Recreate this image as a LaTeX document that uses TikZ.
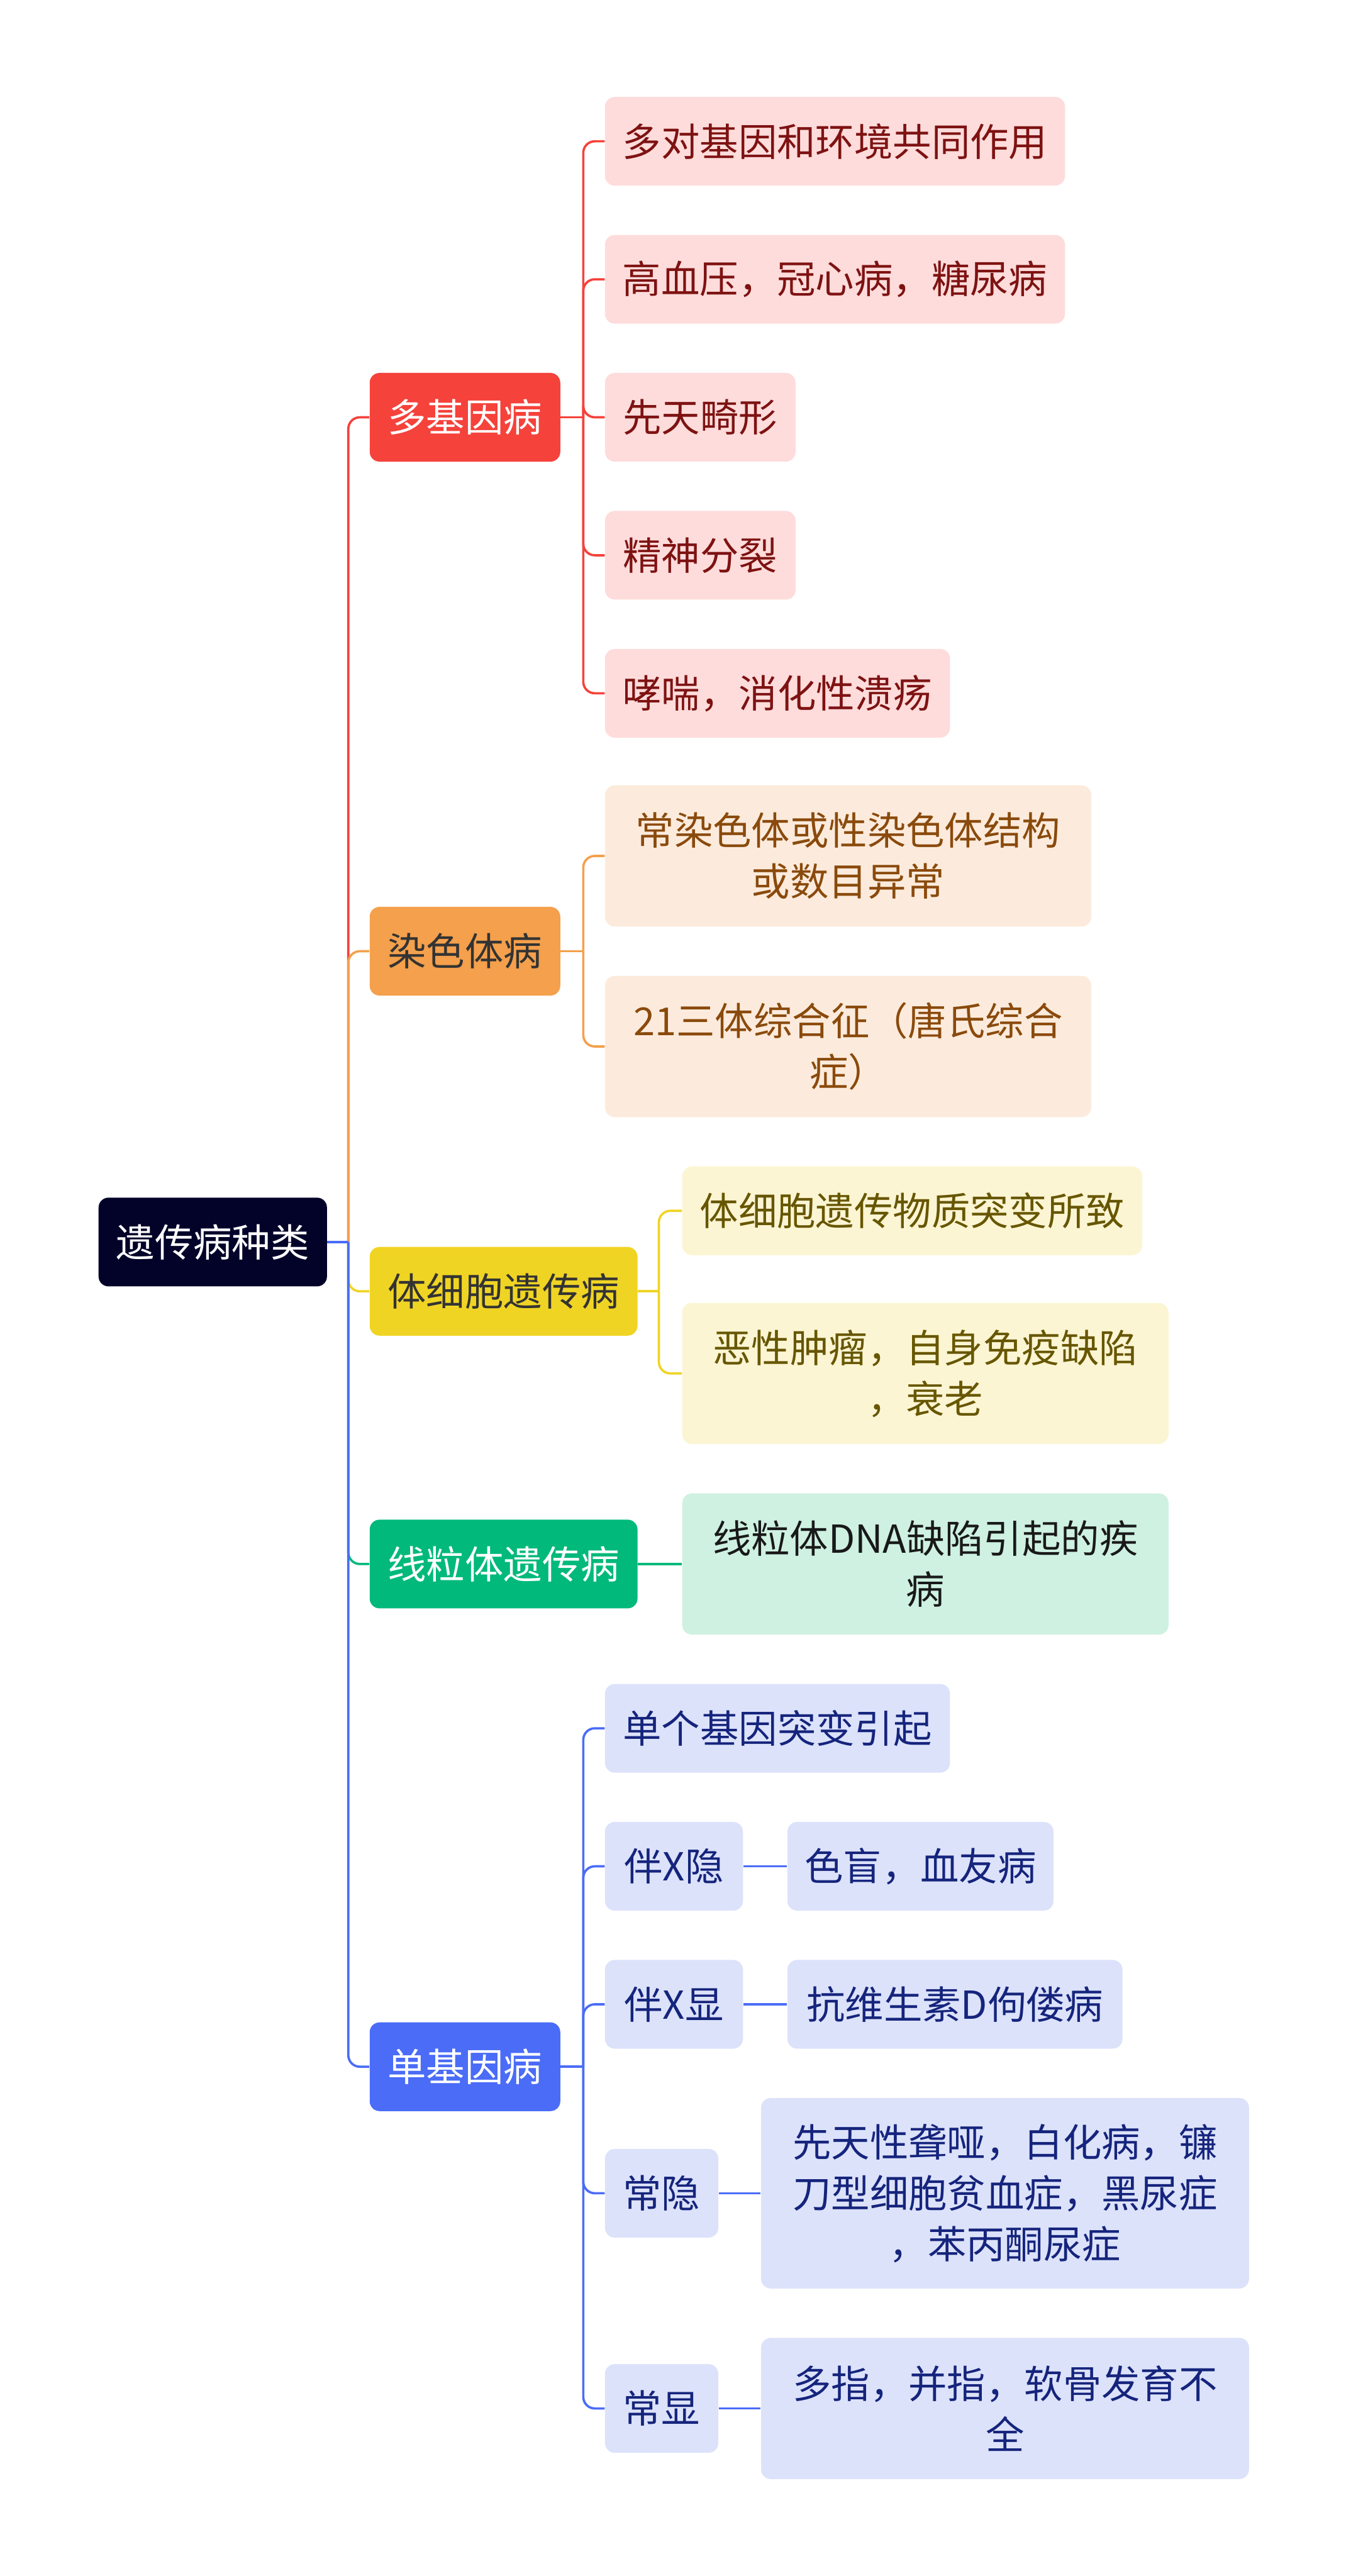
\documentclass[tikz,border=0pt]{standalone}
\usepackage{fontspec}
\setmainfont{Noto Sans CJK SC}
\definecolor{rootbg}{HTML}{03032A}
\definecolor{cred}{HTML}{F5423B}
\definecolor{cora}{HTML}{F4A04C}
\definecolor{cyel}{HTML}{F0D424}
\definecolor{cgrn}{HTML}{00B97A}
\definecolor{cblu}{HTML}{4A6CF7}
\definecolor{lred}{HTML}{FDDCDB}
\definecolor{lora}{HTML}{FCEBDC}
\definecolor{lyel}{HTML}{FBF5D3}
\definecolor{lgrn}{HTML}{CEF1E2}
\definecolor{lblu}{HTML}{DCE2FA}
\definecolor{tred}{HTML}{7E1212}
\definecolor{tora}{HTML}{8A4A0C}
\definecolor{tyel}{HTML}{675600}
\definecolor{tblu}{HTML}{15247C}
\begin{document}
\begin{tikzpicture}[x=1pt,y=-1pt,
  box/.style={rounded corners=6pt,minimum height=54pt,align=center,inner sep=0pt,
    font=\fontsize{23.5}{31}\selectfont},
  topic/.style={box,fill=#1},
  leaf/.style={box,anchor=west},
  link/.style={line width=1.4pt,rounded corners=7pt}]
\useasboundingbox (0,0) rectangle (819,1568);

\node[box,fill=rootbg,text=white,minimum width=139pt] (root) at (129.5,756) {遗传病种类};

% first level
\node[topic=cred,text=white,minimum width=116pt] (duo) at (283,254) {多基因病};
\node[topic=cora,text=black!80,minimum width=116pt] (ran) at (283,579) {染色体病};
\node[topic=cyel,text=black!80,minimum width=163pt] (ti) at (306.5,786) {体细胞遗传病};
\node[topic=cgrn,text=white,minimum width=163pt] (xian) at (306.5,952) {线粒体遗传病};
\node[topic=cblu,text=white,minimum width=116pt] (dan) at (283,1258) {单基因病};

% 多基因病
\node[leaf,fill=lred,text=tred,minimum width=280pt] (duo1) at (368,86) {多对基因和环境共同作用};
\node[leaf,fill=lred,text=tred,minimum width=280pt] (duo2) at (368,170) {高血压，冠心病，糖尿病};
\node[leaf,fill=lred,text=tred,minimum width=116pt] (duo3) at (368,254) {先天畸形};
\node[leaf,fill=lred,text=tred,minimum width=116pt] (duo4) at (368,338) {精神分裂};
\node[leaf,fill=lred,text=tred,minimum width=210pt] (duo5) at (368,422) {哮喘，消化性溃疡};

% 染色体病
\node[leaf,fill=lora,text=tora,minimum width=296pt,minimum height=86pt] (ran1) at (368,521) {常染色体或性染色体结构\\或数目异常};
\node[leaf,fill=lora,text=tora,minimum width=296pt,minimum height=86pt] (ran2) at (368,637) {21三体综合征（唐氏综合\\症）};

% 体细胞遗传病
\node[leaf,fill=lyel,text=tyel,minimum width=280pt] (ti1) at (415,737) {体细胞遗传物质突变所致};
\node[leaf,fill=lyel,text=tyel,minimum width=296pt,minimum height=86pt] (ti2) at (415,836) {恶性肿瘤，自身免疫缺陷\\，衰老};

% 线粒体遗传病
\node[leaf,fill=lgrn,text=black!90,minimum width=296pt,minimum height=86pt] (xian1) at (415,952) {线粒体DNA缺陷引起的疾\\病};

% 单基因病
\node[leaf,fill=lblu,text=tblu,minimum width=210pt] (dan1) at (368,1052) {单个基因突变引起};
\node[leaf,fill=lblu,text=tblu,minimum width=84pt] (dan2) at (368,1136) {伴X隐};
\node[leaf,fill=lblu,text=tblu,minimum width=162pt] (dan2a) at (479,1136) {色盲，血友病};
\node[leaf,fill=lblu,text=tblu,minimum width=84pt] (dan3) at (368,1220) {伴X显};
\node[leaf,fill=lblu,text=tblu,minimum width=204pt] (dan3a) at (479,1220) {抗维生素D佝偻病};
\node[leaf,fill=lblu,text=tblu,minimum width=69pt] (dan4) at (368,1335) {常隐};
\node[leaf,fill=lblu,text=tblu,minimum width=297pt,minimum height=116pt] (dan4a) at (463,1335) {先天性聋哑，白化病，镰\\刀型细胞贫血症，黑尿症\\，苯丙酮尿症};
\node[leaf,fill=lblu,text=tblu,minimum width=69pt] (dan5) at (368,1466) {常显};
\node[leaf,fill=lblu,text=tblu,minimum width=297pt,minimum height=86pt] (dan5a) at (463,1466) {多指，并指，软骨发育不\\全};

% junctions
\coordinate (rj) at (212,756);
\coordinate (duoj) at (355,254);
\coordinate (ranj) at (355,579);
\coordinate (tij) at (401,786);
\coordinate (danj) at (355,1258);

% root to topics
\draw[link,cred] (rj) |- (duo.west);
\draw[link,cora] (rj) |- (ran.west);
\draw[link,cyel] (rj) |- (ti.west);
\draw[link,cgrn] (rj) |- (xian.west);
\draw[link,cblu] (rj) |- (dan.west);
\draw[link,cblu] (root.east) -- (rj);

% topics to leaves
\draw[link,cred] (duo.east) -- (duoj);
\foreach \n in {duo1,duo2,duo3,duo4,duo5}
  \draw[link,cred] (duoj) |- (\n.west);
\draw[link,cora] (ran.east) -- (ranj);
\foreach \n in {ran1,ran2}
  \draw[link,cora] (ranj) |- (\n.west);
\draw[link,cyel] (ti.east) -- (tij);
\foreach \n in {ti1,ti2}
  \draw[link,cyel] (tij) |- (\n.west);
\draw[link,cgrn] (xian.east) -- (xian1.west);
\draw[link,cblu] (dan.east) -- (danj);
\foreach \n in {dan1,dan2,dan3,dan4,dan5}
  \draw[link,cblu] (danj) |- (\n.west);
\draw[link,cblu] (dan2.east) -- (dan2a.west);
\draw[link,cblu] (dan3.east) -- (dan3a.west);
\draw[link,cblu] (dan4.east) -- (dan4a.west);
\draw[link,cblu] (dan5.east) -- (dan5a.west);
\end{tikzpicture}
\end{document}
